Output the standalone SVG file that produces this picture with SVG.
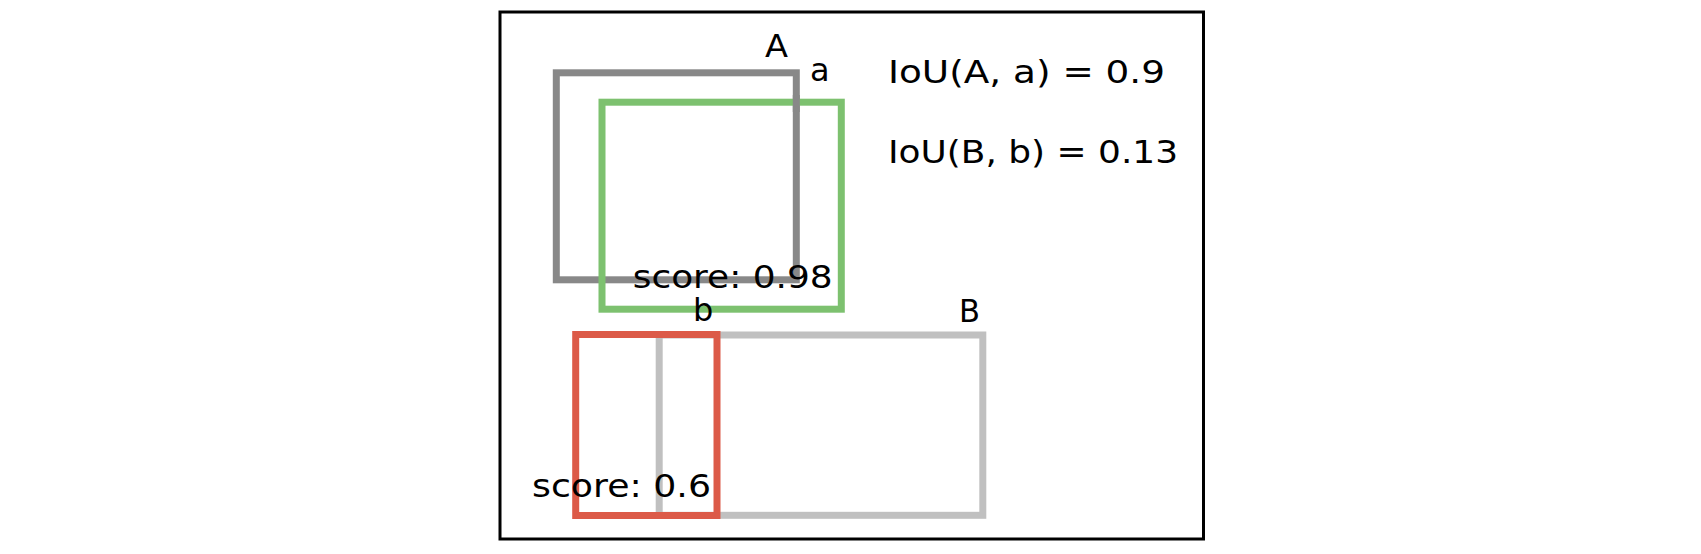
<svg xmlns="http://www.w3.org/2000/svg" width="1701" height="554" viewBox="0 0 1701 554">
<style>
.box{fill:none;stroke-width:7}
.lbl{font-family:"DejaVu Sans","Liberation Sans",sans-serif;font-size:32px;fill:#000}
</style>
<rect width="1701" height="554" fill="#fff"/>
<rect id="frame" x="500" y="12" width="703.5" height="527" fill="none" stroke="#000" stroke-width="3"/>
<g id="boxA">
<rect class="box" x="556.3" y="72.8" width="240" height="207" stroke="#888888"/>
</g>
<g id="boxa">
<rect class="box" x="602" y="102.2" width="239.3" height="207" stroke="#7dc16f"/>
<line x1="796.3" y1="95" x2="796.3" y2="112" stroke="#888888" stroke-width="7"/>
</g>
<g id="boxB">
<rect class="box" x="659.2" y="335" width="323.6" height="180.3" stroke="#c0c0c0"/>
</g>
<g id="boxb">
<rect class="box" x="575.7" y="334.5" width="141.3" height="181" stroke="#dc5a48"/>
</g>
<g id="labels">
<text class="lbl" x="765" y="57" textLength="23" lengthAdjust="spacingAndGlyphs">A</text>
<text class="lbl" x="810" y="80.7">a</text>
<text class="lbl" x="632.7" y="288" textLength="200" lengthAdjust="spacingAndGlyphs">score: 0.98</text>
<text class="lbl" x="693" y="321">b</text>
<text class="lbl" x="959" y="322" textLength="21" lengthAdjust="spacingAndGlyphs">B</text>
<text class="lbl" x="532" y="497" textLength="179" lengthAdjust="spacingAndGlyphs">score: 0.6</text>
<text class="lbl" x="888" y="83" textLength="277" lengthAdjust="spacingAndGlyphs">IoU(A, a) = 0.9</text>
<text class="lbl" x="888" y="163" textLength="290" lengthAdjust="spacingAndGlyphs">IoU(B, b) = 0.13</text>
</g>
</svg>
